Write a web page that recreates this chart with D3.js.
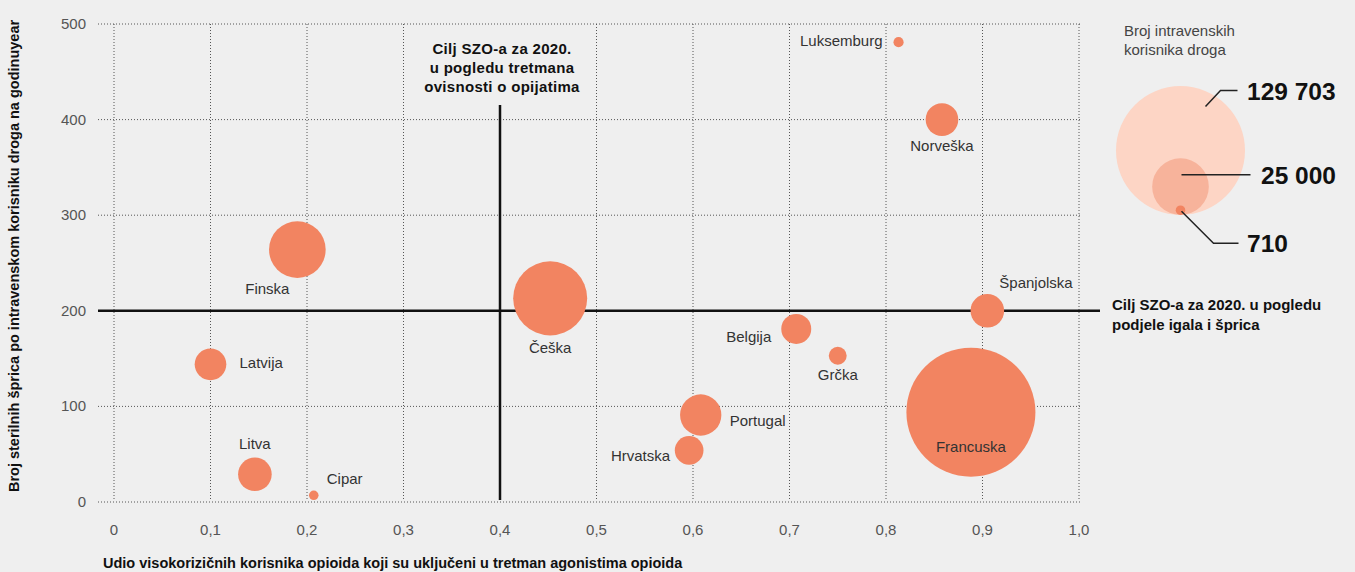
<!DOCTYPE html>
<html>
<head>
<meta charset="utf-8">
<script src="https://d3js.org/d3.v7.min.js"></script>
<style>
  body { margin: 0; background: #efefef; }
  text { font-family: "Liberation Sans", Arial, sans-serif; }
  .lab { font-size: 15px; fill: #333; }
  .tick_lab { font-size: 15px; fill: #555; }
  .note { font-size: 15px; font-weight: bold; fill: #111; letter-spacing: 0.3px; }
  .note_r { font-size: 15px; font-weight: bold; fill: #111; }
  .axis_title { font-size: 14.5px; font-weight: bold; fill: #111; }
  .leg_title { font-size: 15px; fill: #444; }
  .leg_val { font-size: 24.5px; font-weight: bold; fill: #111; }
</style>
</head>
<body>
<script>
// set up SVG
var w = 1355;
var h = 572;

// data
var countries = ["Luksemburg", "Norveška", "Finska", "Češka", "Španjolska", "Belgija", "Grčka",
                 "Latvija", "Portugal", "Hrvatska", "Francuska", "Litva", "Cipar"];
var shareTreated = [0.813, 0.858, 0.190, 0.452, 0.905, 0.707, 0.750,
                    0.100, 0.608, 0.596, 0.888, 0.146, 0.207];
var syringes = [481, 400, 264, 213, 200, 181, 153,
                144, 91, 54, 94, 29, 7];
var users = [800, 8300, 25000, 42700, 8800, 7000, 2500,
             7800, 13300, 6400, 129703, 8800, 710];

var xTicks = [0, 0.1, 0.2, 0.3, 0.4, 0.5, 0.6, 0.7, 0.8, 0.9, 1.0];
var yTicks = [0, 100, 200, 300, 400, 500];
var legendVals = [129703, 25000, 710];
var targetX = 0.4;
var targetY = 200;

// label placement per country: [anchor, dx, dy] relative to bubble centre
var labelPos = [["end", -16, -1], ["middle", 0, 26], ["middle", -30, 39], ["middle", 0, 50],
                ["start", 12, -28], ["end", -25, 8], ["middle", 0, 19], ["start", 29, -1],
                ["start", 29, 6], ["end", -19, 6], ["middle", 0, 35], ["middle", 0, -30],
                ["start", 13, -16]];

// plot area
var x0 = 114, x1 = 1079;
var yTop = 24, yBot = 502;

var scaleX = d3.scaleLinear().domain([0, 1]).range([x0, x1]);
var scaleY = d3.scaleLinear().domain([0, 500]).range([yBot, yTop]);
var scaleR = d3.scaleSqrt().domain([0, d3.max(users)]).range([0, 64.5]);

var fmtX = function(d) { return d === 0 ? "0" : d3.format(".1f")(d).replace(".", ","); };
var fmtN = function(d) { return d3.format(",")(d).replace(/,/g, " "); };

var svg = d3.select("body")
            .append("svg")
            .attr("width", w)
            .attr("height", h);

// dotted grid
svg.selectAll(".gridY")
   .data(yTicks.filter(function(d) { return d !== targetY; }))
   .enter()
   .append("line")
   .attr("x1", 98)
   .attr("x2", x1 + 1)
   .attr("y1", function(d) { return scaleY(d); })
   .attr("y2", function(d) { return scaleY(d); })
   .attr("stroke", "#555")
   .attr("stroke-width", 1)
   .attr("stroke-dasharray", "1,2");

svg.selectAll(".gridX")
   .data(xTicks.filter(function(d) { return d !== targetX; }))
   .enter()
   .append("line")
   .attr("x1", function(d) { return scaleX(d); })
   .attr("x2", function(d) { return scaleX(d); })
   .attr("y1", yTop)
   .attr("y2", yBot - 2)
   .attr("stroke", "#555")
   .attr("stroke-width", 1)
   .attr("stroke-dasharray", "1,2");

// WHO target lines
svg.append("line")
   .attr("x1", 98)
   .attr("x2", 1100)
   .attr("y1", scaleY(targetY))
   .attr("y2", scaleY(targetY))
   .attr("stroke", "#111")
   .attr("stroke-width", 2.5);

svg.append("line")
   .attr("x1", scaleX(targetX))
   .attr("x2", scaleX(targetX))
   .attr("y1", 105)
   .attr("y2", yBot - 2)
   .attr("stroke", "#111")
   .attr("stroke-width", 2.5);

// tick labels
svg.selectAll(".ylab")
   .data(yTicks)
   .enter()
   .append("text")
   .attr("class", "tick_lab")
   .attr("text-anchor", "end")
   .attr("x", 86)
   .attr("y", function(d) { return scaleY(d) + 5; })
   .text(function(d) { return d; });

svg.selectAll(".xlab")
   .data(xTicks)
   .enter()
   .append("text")
   .attr("class", "tick_lab")
   .attr("text-anchor", "middle")
   .attr("x", function(d) { return scaleX(d); })
   .attr("y", 535)
   .text(fmtX);

// bubbles, biggest first so small ones stay visible
var idx = d3.range(countries.length).sort(function(a, b) { return users[b] - users[a]; });

svg.selectAll(".bubble")
   .data(idx)
   .enter()
   .append("circle")
   .attr("cx", function(i) { return scaleX(shareTreated[i]); })
   .attr("cy", function(i) { return scaleY(syringes[i]); })
   .attr("r", function(i) { return scaleR(users[i]); })
   .attr("fill", "#f28461");

// country labels
svg.selectAll(".country")
   .data(d3.range(countries.length))
   .enter()
   .append("text")
   .attr("class", "lab")
   .attr("text-anchor", function(i) { return labelPos[i][0]; })
   .attr("x", function(i) { return scaleX(shareTreated[i]) + labelPos[i][1]; })
   .attr("y", function(i) { return scaleY(syringes[i]) + labelPos[i][2] + 5; })
   .text(function(i) { return countries[i]; });

// annotations
var noteTop = ["Cilj SZO-a za 2020.", "u pogledu tretmana", "ovisnosti o opijatima"];
svg.selectAll(".noteTop")
   .data(noteTop)
   .enter()
   .append("text")
   .attr("class", "note")
   .attr("text-anchor", "middle")
   .attr("x", scaleX(targetX) + 2)
   .attr("y", function(d, i) { return 54 + i * 19; })
   .text(function(d) { return d; });

var noteRight = ["Cilj SZO-a za 2020. u pogledu", "podjele igala i šprica"];
svg.selectAll(".noteRight")
   .data(noteRight)
   .enter()
   .append("text")
   .attr("class", "note_r")
   .attr("x", 1112)
   .attr("y", function(d, i) { return 310 + i * 20; })
   .text(function(d) { return d; });

// axis titles
svg.append("text")
   .attr("class", "axis_title")
   .attr("text-anchor", "middle")
   .attr("transform", "translate(19,256) rotate(-90)")
   .text("Broj sterilnih šprica po intravenskom korisniku droga na godinuyear");

svg.append("text")
   .attr("class", "axis_title")
   .attr("x", 103)
   .attr("y", 568)
   .text("Udio visokorizičnih korisnika opioida koji su uključeni u tretman agonistima opioida");

// legend
var legX = 1180.5, legBot = 215;
var legCols = ["#fdd5c5", "#f7b39b", "#f28461"];

svg.append("text")
   .attr("class", "leg_title")
   .attr("x", 1124)
   .attr("y", 36)
   .text("Broj intravenskih");
svg.append("text")
   .attr("class", "leg_title")
   .attr("x", 1124)
   .attr("y", 55)
   .text("korisnika droga");

svg.selectAll(".legC")
   .data(legendVals)
   .enter()
   .append("circle")
   .attr("cx", legX)
   .attr("cy", function(d) { return legBot - scaleR(d); })
   .attr("r", function(d) { return scaleR(d); })
   .attr("fill", function(d, i) { return legCols[i]; });

// leader lines for legend values
var lineGenerator = d3.line();
var r0 = scaleR(legendVals[0]), r1 = scaleR(legendVals[1]), r2 = scaleR(legendVals[2]);
var leaders = [
    [[legX + 25, legBot - r0 - 44], [legX + 40, legBot - r0 - 60], [legX + 57, legBot - r0 - 60]],
    [[legX + 1, legBot - r1 - 12], [legX + 70, legBot - r1 - 12]],
    [[legX + 1, legBot - r2 + 1], [legX + 33, legBot - r2 + 33], [legX + 58, legBot - r2 + 33]]
];
var legLabX = [1247, 1261, 1247];

svg.selectAll(".leader")
   .data(leaders)
   .enter()
   .append("path")
   .attr("d", function(d) { return lineGenerator(d); })
   .attr("stroke", "#222")
   .attr("stroke-width", 1.5)
   .attr("fill", "none");

svg.selectAll(".legV")
   .data(legendVals)
   .enter()
   .append("text")
   .attr("class", "leg_val")
   .attr("x", function(d, i) { return legLabX[i]; })
   .attr("y", function(d, i) { return leaders[i][leaders[i].length - 1][1] + 9; })
   .text(fmtN);
</script>
</body>
</html>
